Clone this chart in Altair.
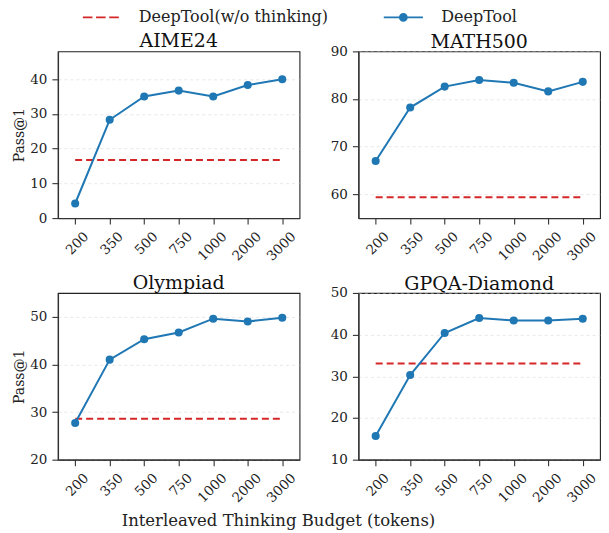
import altair as alt
import pandas as pd

FONT = "DejaVu Serif"
BLUE = "#1f77b4"
RED = "#d62728"

budgets = ["200", "350", "500", "750", "1000", "2000", "3000"]
names = ["AIME24", "MATH500", "Olympiad", "GPQA-Diamond"]
series_names = ["DeepTool(w/o thinking)", "DeepTool"]

aime24 = [4.2, 28.3, 35.0, 36.7, 35.0, 38.3, 40.0]
math500 = [67.0, 78.2, 82.6, 84.0, 83.4, 81.6, 83.6]
olympiad = [27.7, 41.0, 45.3, 46.7, 49.6, 49.0, 49.8]
gpqa = [15.7, 30.3, 40.4, 44.0, 43.4, 43.4, 43.8]
baselines = [16.7, 59.4, 28.6, 33.1]

y_domains = [[0, 48], [55, 90], [20, 55], [10, 50]]
y_ticks = [[0, 10, 20, 30, 40], [60, 70, 80, 90], [20, 30, 40, 50], [10, 20, 30, 40, 50]]

# legend symbols (SVG paths, unit = 4px with symbolSize 64)
DASH_PATH = ("M-4.5,-0.23H-2.1V0.23H-4.5Z M-1.2,-0.23H1.2V0.23H-1.2Z "
             "M2.1,-0.23H4.5V0.23H2.1Z")
DOT_PATH = ("M-4.9,-0.23H4.9V0.23H-4.9Z "
            "M-1.1,0A1.1,1.1 0 1,1 1.1,0A1.1,1.1 0 1,1 -1.1,0Z")


def panel(name, vals, base, dom, ticks, ytitle, with_legend):
    df = pd.DataFrame({
        "budget": budgets * 2,
        "value": vals + [base] * len(budgets),
        "series": ["DeepTool"] * len(budgets) + ["DeepTool(w/o thinking)"] * len(budgets),
    })
    x = alt.X("budget:N", sort=budgets,
              scale=alt.Scale(type="point", padding=0.5),
              axis=alt.Axis(title=None, labelAngle=-45, labelAlign="right",
                            labelBaseline="top", labelPadding=5, labelOffset=6))
    yaxis = alt.Axis(values=ticks, title=ytitle) if ytitle else alt.Axis(values=ticks, title=None)
    y = alt.Y("value:Q", scale=alt.Scale(domain=dom, nice=False, zero=False), axis=yaxis)
    base_chart = alt.Chart(df)
    b_line = base_chart.transform_filter(
        alt.datum.series == "DeepTool(w/o thinking)"
    ).mark_line(color=RED, strokeDash=[7, 4], strokeWidth=2).encode(x=x, y=y)
    d_line = base_chart.transform_filter(
        alt.datum.series == "DeepTool"
    ).mark_line(color=BLUE, strokeWidth=2).encode(x=x, y=y)
    d_pts = base_chart.transform_filter(
        alt.datum.series == "DeepTool"
    ).mark_point(color=BLUE, filled=True, size=65, opacity=1).encode(x=x, y=y)
    layers = [b_line, d_line, d_pts]
    if with_legend:
        leg = dict(title=None, orient="none", legendX=35, legendY=-42,
                   direction="horizontal", columns=2, symbolSize=64,
                   labelOffset=30, columnPadding=55, symbolStrokeWidth=0,
                   labelLimit=0)
        lg = base_chart.transform_filter("false").mark_point(filled=True, opacity=1).encode(
            color=alt.Color("series:N",
                            scale=alt.Scale(domain=series_names, range=[RED, BLUE]),
                            legend=alt.Legend(**leg)),
            shape=alt.Shape("series:N",
                            scale=alt.Scale(domain=series_names, range=[DASH_PATH, DOT_PATH]),
                            legend=alt.Legend(**leg)),
        )
        layers.append(lg)
    # panels whose top tick sits on the frame need a lower title offset
    t_off = -8 if ticks[-1] == dom[1] else 0
    return alt.layer(*layers).properties(
        width=242, height=167,
        title=alt.TitleParams(name, anchor="middle", offset=t_off),
    )


all_vals = [aime24, math500, olympiad, gpqa]
panels = []
for i, nm in enumerate(names):
    panels.append(panel(nm, all_vals[i], baselines[i], y_domains[i], y_ticks[i],
                        "Pass@1" if i % 2 == 0 else None, i == 0))

chart = alt.concat(
    *panels, columns=2, spacing={"row": 75, "column": 59}, bounds="flush",
    title=alt.TitleParams("Interleaved Thinking Budget (tokens)", orient="bottom",
                          anchor="middle", fontSize=16.5, font=FONT, fontWeight="normal",
                          color="#222", dx=-28, offset=8),
).properties(
    padding={"left": 4, "top": 1, "right": 0, "bottom": 0}
).configure_view(
    stroke="#222", strokeWidth=1.1
).configure_axis(
    labelFont=FONT, labelFontSize=13.5, labelColor="#222",
    titleFont=FONT, titleFontSize=14, titleFontWeight="normal", titleColor="#222",
    titlePadding=3,
    tickColor="#333", tickSize=6, tickWidth=1.1,
    domainColor="#333", domainWidth=1.3,
    gridColor="#cfcfcf", gridDash=[3, 3], gridOpacity=0.6, gridWidth=0.8,
    labelPadding=5,
).configure_title(
    font=FONT, fontSize=19, fontWeight="normal", color="#111", offset=0
).configure_legend(
    labelFont=FONT, labelFontSize=16, labelColor="#222", padding=0,
)

chart.save("out.html", embed_options={"renderer": "svg", "actions": False})
